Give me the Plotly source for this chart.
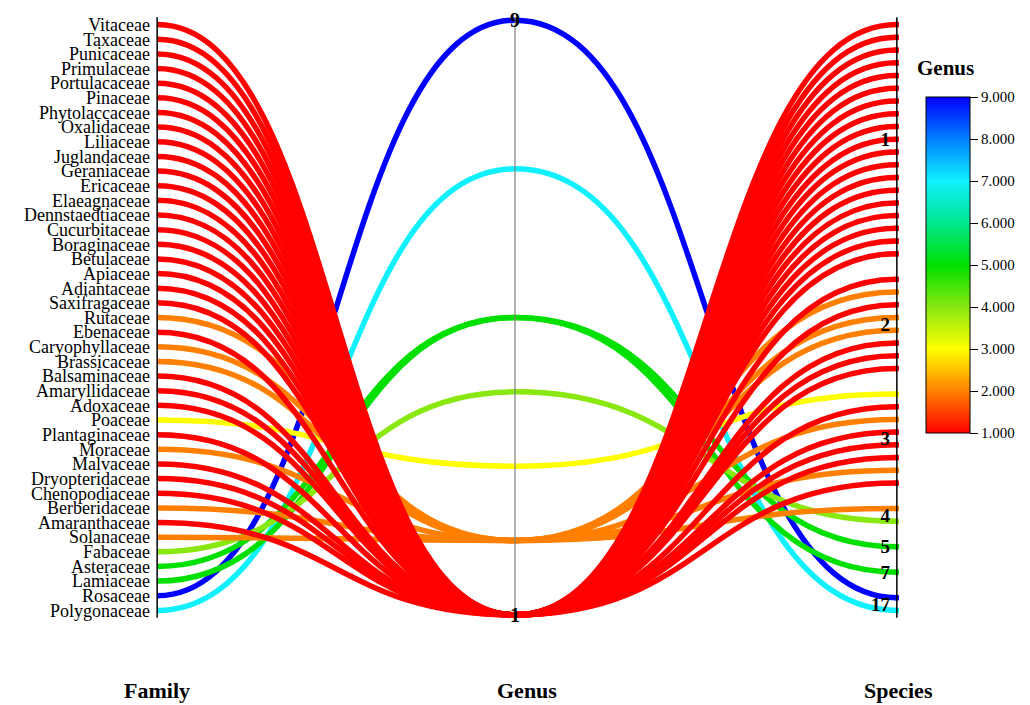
import plotly.graph_objects as go
from plotly.colors import sample_colorscale

# ---------------- data (ordered bottom -> top on the Family axis) ----------------
FAMILY = [
    "Polygonaceae", "Rosaceae", "Lamiaceae", "Asteraceae", "Fabaceae", "Solanaceae",
    "Amaranthaceae", "Berberidaceae", "Chenopodiaceae", "Dryopteridaceae", "Malvaceae",
    "Moraceae", "Plantaginaceae", "Poaceae",
    "Adoxaceae", "Amaryllidaceae", "Balsaminaceae", "Brassicaceae", "Caryophyllaceae",
    "Ebenaceae", "Rutaceae", "Saxifragaceae",
    "Adiantaceae", "Apiaceae", "Betulaceae", "Boraginaceae", "Cucurbitaceae",
    "Dennstaedtiaceae", "Elaeagnaceae", "Ericaceae", "Geraniaceae", "Juglandaceae",
    "Liliaceae", "Oxalidaceae", "Phytolaccaceae", "Pinaceae", "Portulacaceae",
    "Primulaceae", "Punicaceae", "Taxaceae", "Vitaceae",
]
GENUS = [
    7, 9, 5, 5, 4, 2,
    1, 2, 1, 1, 1, 2, 1, 3,
    1, 1, 1, 2, 2, 1, 2, 1,
    1, 1, 1, 1, 1, 1, 1, 1, 1, 1, 1, 1, 1, 1, 1, 1, 1, 1, 1,
]
SPECIES = [
    17, 17, 7, 5, 4, 4,
    3, 3, 3, 3, 3, 3, 3, 3,
    2, 2, 2, 2, 2, 2, 2, 2,
    1, 1, 1, 1, 1, 1, 1, 1, 1, 1, 1, 1, 1, 1, 1, 1, 1, 1, 1,
]
GENUS_MIN, GENUS_MAX = 1, 9
COLORBAR_TICKS = [1, 2, 3, 4, 5, 6, 7, 8, 9]
AXIS_TITLES = ["Family", "Genus", "Species"]

# ---------------- styling ----------------
FONT = "Liberation Serif"
COLORSCALE = [
    [0.000, "#ff0000"], [0.125, "#ff8000"], [0.250, "#ffff00"], [0.375, "#88e810"],
    [0.500, "#00e000"], [0.625, "#00e890"], [0.750, "#10f0ff"], [0.875, "#0080ff"],
    [1.000, "#0000ff"],
]
AX = [0.0, 1.0, 2.067]      # x position of the three parallel axes
PAD = 0.0075                # padding of categorical axes inside [0,1]
K = 0.5                     # bezier handle fraction (horizontal tangents at axes)
LINE_W = 5.5

n = len(FAMILY)

# Family axis: one slot per family
left_pos = [PAD + (1 - 2 * PAD) * i / (n - 1) for i in range(n)]

# Species axis: categorical groups with an empty slot between groups
slots = []
gap = 0
for i, sp in enumerate(SPECIES):
    if i > 0 and sp != SPECIES[i - 1]:
        gap += 1
    slots.append(i + gap)
total_slots = slots[-1]
right_pos = [PAD + (1 - 2 * PAD) * s / total_slots for s in slots]


# Genus axis: linear
def gpos(g):
    return (g - GENUS_MIN) / (GENUS_MAX - GENUS_MIN)


genus_pos = [gpos(g) for g in GENUS]

# species tick labels at the centre of each group
sp_vals = []
for sp in SPECIES:
    if sp not in sp_vals:
        sp_vals.append(sp)
sp_tickpos = []
for v in sp_vals:
    ps = [right_pos[i] for i in range(n) if SPECIES[i] == v]
    sp_tickpos.append(sum(ps) / len(ps))

colors = sample_colorscale(COLORSCALE, [gpos(g) for g in GENUS])

shapes = []
for i in range(n):
    pts = [(AX[0], left_pos[i]), (AX[1], genus_pos[i]), (AX[2], right_pos[i])]
    path = f"M {pts[0][0]},{pts[0][1]}"
    for (x0, y0), (x1, y1) in zip(pts[:-1], pts[1:]):
        dx = x1 - x0
        path += f" C {x0 + K * dx},{y0} {x1 - K * dx},{y1} {x1},{y1}"
    shapes.append(dict(type="path", path=path, xref="x", yref="y", layer="below",
                       line=dict(color=colors[i], width=LINE_W)))

# axis lines
for k, x in enumerate(AX):
    shapes.append(dict(type="line", xref="x", yref="y", x0=x, x1=x, y0=-0.005, y1=1.005,
                       layer="above",
                       line=dict(color="#000000" if k != 1 else "#808080",
                                 width=1.5 if k != 1 else 1.2)))

fig = go.Figure()

# invisible trace carrying the colour scale (and the species axis)
fig.add_trace(go.Scatter(
    x=[AX[2]] * n, y=right_pos, yaxis="y2", mode="markers", hoverinfo="skip",
    showlegend=False,
    marker=dict(size=0, color=GENUS, colorscale=COLORSCALE, cmin=GENUS_MIN, cmax=GENUS_MAX,
                showscale=True,
                colorbar=dict(
                    x=1.036, xanchor="left", y=0.862, yanchor="top",
                    len=0.552, lenmode="fraction", thickness=44, xpad=0, ypad=0,
                    outlinecolor="#000000", outlinewidth=1,
                    tickvals=COLORBAR_TICKS, tickformat=".3f",
                    ticks="outside", ticklen=8, tickcolor="#000000",
                    tickfont=dict(family=FONT, size=15, color="#000000"),
                )),
))

annotations = []
# genus axis labels (min and max)
for g in (GENUS_MAX, GENUS_MIN):
    annotations.append(dict(x=AX[1], y=gpos(g), xref="x", yref="y", text=str(g),
                            showarrow=False, xanchor="center", yanchor="middle",
                            font=dict(family=FONT, size=20, color="#000000", weight="bold")))
# axis titles
for x, t, xs in zip(AX, AXIS_TITLES, [0, 12, 2]):
    annotations.append(dict(x=x, y=0, xref="x", yref="paper", text=t, showarrow=False,
                            xanchor="center", yanchor="middle", yshift=-68, xshift=xs,
                            font=dict(family=FONT, size=22, color="#000000", weight="bold")))
# colorbar title
annotations.append(dict(x=1.062, y=0.91, xref="paper", yref="paper", text="Genus",
                        showarrow=False, xanchor="center", yanchor="middle",
                        font=dict(family=FONT, size=21, color="#000000", weight="bold")))

fig.update_layout(
    width=1022, height=697,
    margin=dict(l=147, r=131, t=5, b=83),
    paper_bgcolor="white", plot_bgcolor="white",
    showlegend=False,
    xaxis=dict(range=[AX[0] - 0.006, AX[2] + 0.006], visible=False, fixedrange=True),
    yaxis=dict(range=[-0.012, 1.012], tickvals=left_pos, ticktext=FAMILY,
               showgrid=False, zeroline=False, showline=False, ticks="",
               ticklabelstandoff=4, automargin=False,
               tickfont=dict(family=FONT, size=18, color="#000000")),
    yaxis2=dict(range=[-0.012, 1.012], overlaying="y", side="right", anchor="x",
                tickvals=sp_tickpos, ticktext=[str(v) for v in sp_vals],
                ticklabelposition="inside", ticklabelstandoff=6, automargin=False,
                showgrid=False, zeroline=False, showline=False, ticks="",
                tickfont=dict(family=FONT, size=19, color="#000000", weight="bold")),
    shapes=shapes,
    annotations=annotations,
)

fig.write_html("out.html")
